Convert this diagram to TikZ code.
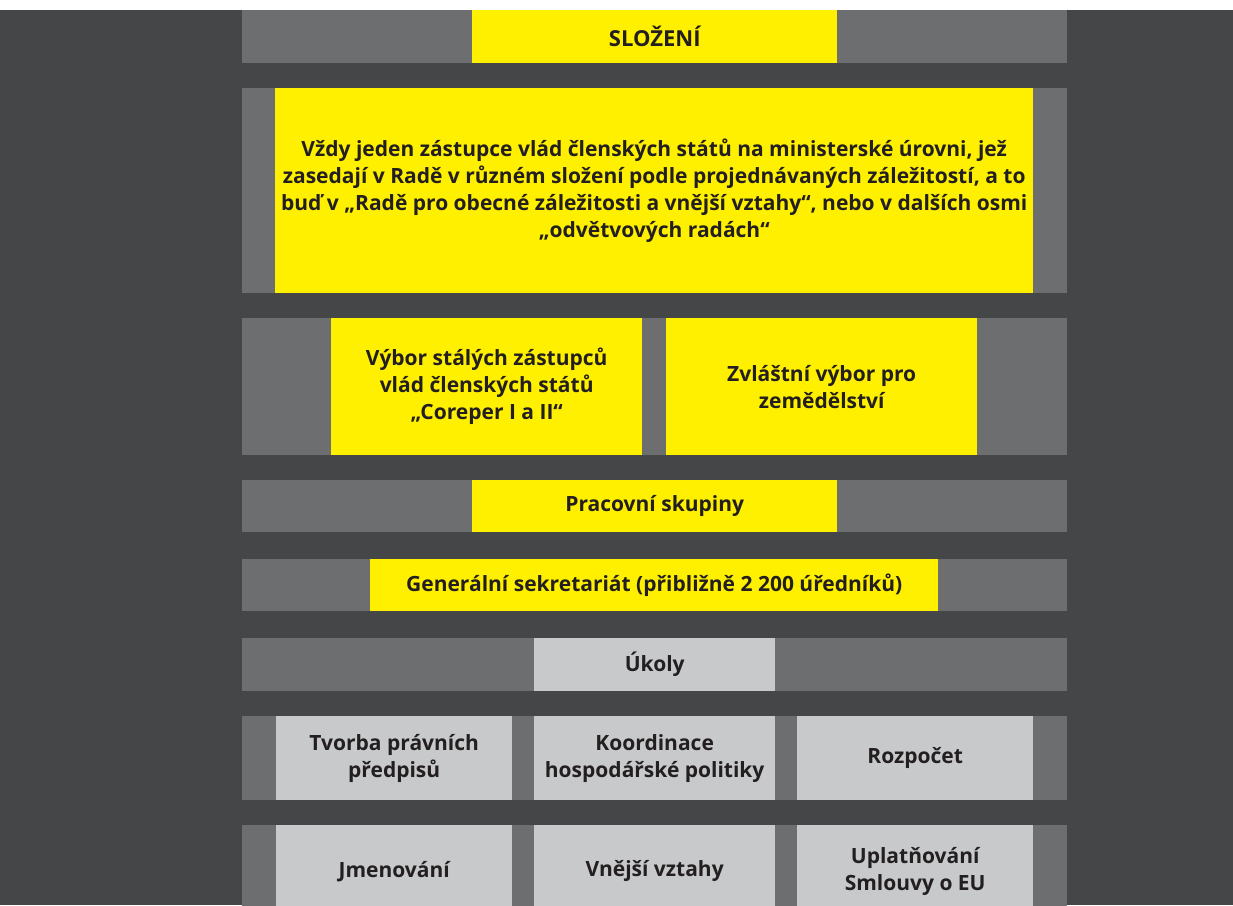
\documentclass[tikz,border=0pt]{standalone}
\usepackage{fontspec}
\setmainfont{Open Sans}
\usepackage{tikz}
\usetikzlibrary{positioning}
\definecolor{darkbg}{HTML}{454648}
\definecolor{midgray}{HTML}{6D6E70}
\definecolor{signal}{HTML}{FFF000}
\definecolor{pale}{HTML}{C8C9CB}
\definecolor{ink}{HTML}{231F20}

\begin{document}
\begin{tikzpicture}[
  x=1pt, y=-1pt,
  font=\fontsize{21}{27}\selectfont\bfseries, text=ink,
  band/.style={rectangle, fill=midgray, anchor=north west, inner sep=0pt,
               minimum width=825pt},
  ybox/.style={rectangle, fill=signal, anchor=north west, inner sep=0pt, align=center},
  gbox/.style={rectangle, fill=pale, anchor=north west, inner sep=0pt, align=center}]

  % page
  \useasboundingbox (0,0) rectangle (1233,905);
  \clip (0,0) rectangle (1233,905);
  \fill[white] (0,0) rectangle (1233,905);
  \fill[darkbg] (0,10) rectangle (1233,905);

  % composition
  \node[band, minimum height=53pt]  (bandA) at (242,10) {};
  \node[ybox, minimum width=365pt, minimum height=53pt] (slozeni) at (472,10)
       {\fontsize{22}{27}\selectfont SLOŽENÍ};

  \node[band, minimum height=205pt] (bandB) at (242,88) {};
  \node[ybox, minimum width=758pt, minimum height=205pt] (zastupci) at (275,88)
       {Vždy jeden zástupce vlád členských států na ministerské úrovni, jež\\
        zasedají v Radě v různém složení podle projednávaných záležitostí, a to\\
        buď v „Radě pro obecné záležitosti a vnější vztahy“, nebo v dalších osmi\\
        „odvětvových radách“};

  \node[band, minimum height=137pt] (bandC) at (242,318) {};
  \node[ybox, minimum width=311pt, minimum height=137pt] (coreper) at (331,318)
       {Výbor stálých zástupců\\vlád členských států\\„Coreper I a II“};
  \node[ybox, minimum width=311pt, minimum height=137pt] (zemedelstvi) at (666,318)
       {Zvláštní výbor pro\\zemědělství};

  \node[band, minimum height=52pt]  (bandD) at (242,480) {};
  \node[ybox, minimum width=365pt, minimum height=52pt] (skupiny) at (472,480)
       {Pracovní skupiny};

  \node[band, minimum height=52pt]  (bandE) at (242,559) {};
  \node[ybox, minimum width=568pt, minimum height=52pt] (sekretariat) at (370,559)
       {Generální sekretariát (přibližně 2 200 úředníků)};

  % tasks
  \node[band, minimum height=53pt]  (bandF) at (242,638) {};
  \node[gbox, minimum width=241pt, minimum height=53pt] (ukoly) at (534,638)
       {Úkoly};

  \node[band, minimum height=84pt]  (bandG) at (242,716) {};
  \node[gbox, minimum width=236pt, minimum height=84pt] (tvorba) at (276,716)
       {Tvorba právních\\předpisů};
  \node[gbox, minimum width=241pt, minimum height=84pt] (koordinace) at (534,716)
       {Koordinace\\hospodářské politiky};
  \node[gbox, minimum width=236pt, minimum height=84pt] (rozpocet) at (797,716)
       {Rozpočet};

  % last row runs off the page
  \node[band, minimum height=92pt]  (bandH) at (242,825) {};
  \node[gbox, minimum width=236pt, minimum height=92pt] (jmenovani) at (276,825)
       {Jmenování};
  \node[gbox, minimum width=241pt, minimum height=92pt] (vztahy) at (534,825)
       {Vnější vztahy};
  \node[gbox, minimum width=236pt, minimum height=92pt] (smlouvy) at (797,825)
       {Uplatňování\\Smlouvy o EU};
\end{tikzpicture}
\end{document}
